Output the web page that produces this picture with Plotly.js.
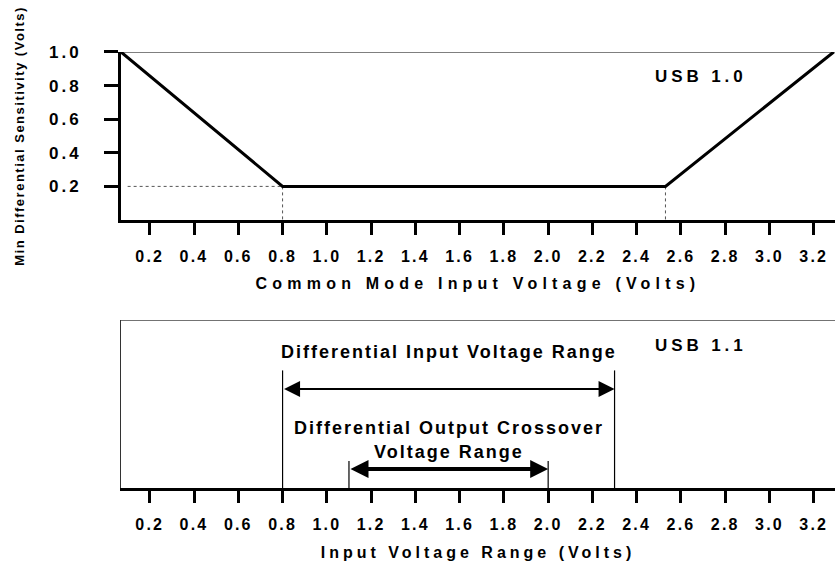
<!DOCTYPE html>
<html>
<head>
<meta charset="utf-8">
<script src="https://cdn.plot.ly/plotly-3.0.1.min.js"></script>
<style>
  html, body { margin: 0; padding: 0; background: #fff; }
  #chart { width: 835px; height: 565px; }
  .xtitle { letter-spacing: 5.2px; }
  .x2title { letter-spacing: 4px; }
  .ytitle { letter-spacing: 1.5px; }
  .xtick text, .x2tick text { letter-spacing: 2.2px; }
  .ytick text { letter-spacing: 3px; }
  .annotation-text { letter-spacing: 2px; }
  .annotation-text[data-unformatted^="USB"] { letter-spacing: 3.9px; }
</style>
</head>
<body>
<div id="chart"></div>
<script>
// ---- data ----
var sensVoltage = [0.07, 0.8, 2.53, 3.29];     // common mode input voltage (V)
var sensMin     = [1.0, 0.2, 0.2, 1.0];         // min differential sensitivity (V)
var guideX      = [0.10, 0.8, null, 0.8, 0.8, null, 2.53, 2.53];
var guideY      = [0.2, 0.2, null, 0.2, 0.0, null, 0.2, 0.0];
var inputRange     = [0.8, 2.3];   // differential input voltage range (V)
var crossoverRange = [1.1, 2.0];   // differential output crossover voltage range (V)
var xTickVals  = [0.2, 0.4, 0.6, 0.8, 1.0, 1.2, 1.4, 1.6, 1.8, 2.0, 2.2, 2.4, 2.6, 2.8, 3.0, 3.2];
var xTickText  = ["0.2","0.4","0.6","0.8","1.0","1.2","1.4","1.6","1.8","2.0","2.2","2.4","2.6","2.8","3.0","3.2"];
var yTickVals  = [0.2, 0.4, 0.6, 0.8, 1.0];
var yTickText  = ["0.2","0.4","0.6","0.8","1.0"];

// ---- figure ----
var F = "Liberation Sans, Arial, sans-serif";
var xRange = [0.07, 3.296];

var inLevel = 0.59, inTop = 0.70;
var coLevel = 0.113, coTop = 0.16;

var traces = [
  { x: guideX, y: guideY, xaxis: 'x', yaxis: 'y', mode: 'lines',
    line: { color: '#555', width: 1, dash: 'dot' }, hoverinfo: 'skip', showlegend: false },
  { x: sensVoltage, y: sensMin, xaxis: 'x', yaxis: 'y', mode: 'lines',
    line: { color: '#000', width: 3 }, hoverinfo: 'skip', showlegend: false },
  { x: [inputRange[0], inputRange[0], null, inputRange[1], inputRange[1], null,
        crossoverRange[0], crossoverRange[0], null, crossoverRange[1], crossoverRange[1]],
    y: [0, inTop, null, 0, inTop, null, 0, coTop, null, 0, coTop],
    xaxis: 'x2', yaxis: 'y2', mode: 'lines',
    line: { color: '#000', width: 1.2 }, hoverinfo: 'skip', showlegend: false }
];

var axisCommon = {
  range: xRange, showgrid: false, zeroline: false, showline: true,
  linecolor: '#000', linewidth: 3, ticks: 'outside', ticklen: 12, tickwidth: 3,
  tickcolor: '#000', tickvals: xTickVals, ticktext: xTickText,
  tickfont: { family: F, size: 16, color: '#000', weight: 'bold' },
  ticklabelstandoff: 8, fixedrange: true
};

var layout = {
  width: 835, height: 565,
  margin: { l: 121, r: 0, t: 0, b: 0 },
  paper_bgcolor: '#fff', plot_bgcolor: '#fff',
  showlegend: false,
  xaxis: Object.assign({}, axisCommon, {
    anchor: 'y', domain: [0, 1],
    title: { text: 'Common Mode Input Voltage (Volts)', standoff: 14,
             font: { family: F, size: 16, color: '#000', weight: 'bold' } }
  }),
  yaxis: {
    anchor: 'x', domain: [0.6106, 0.9080], range: [0, 1],
    showgrid: false, zeroline: false, showline: true, linecolor: '#000', linewidth: 3,
    ticks: 'outside', ticklen: 14, tickwidth: 3, tickcolor: '#000',
    tickvals: yTickVals, ticktext: yTickText,
    tickfont: { family: F, size: 17, color: '#000', weight: 'bold' },
    ticklabelstandoff: 19, fixedrange: true,
    title: { text: 'Min Differential Sensitivity (Volts)', standoff: 22,
             font: { family: F, size: 13, color: '#000', weight: 'bold' } }
  },
  xaxis2: Object.assign({}, axisCommon, {
    anchor: 'y2', domain: [0, 1],
    title: { text: 'Input Voltage Range (Volts)', standoff: 15,
             font: { family: F, size: 16, color: '#000', weight: 'bold' } }
  }),
  yaxis2: {
    anchor: 'x2', domain: [0.1363, 0.4336], range: [0, 1],
    showgrid: false, zeroline: false, showline: true, linecolor: '#333', linewidth: 1.5,
    ticks: '', showticklabels: false, fixedrange: true
  },
  shapes: [
    { type: 'line', xref: 'paper', yref: 'y', x0: -0.02, x1: 1, y0: 1, y1: 1,
      line: { color: '#000', width: 1.2 } },
    { type: 'line', xref: 'paper', yref: 'y2', x0: 0, x1: 1, y0: 1, y1: 1,
      line: { color: '#444', width: 1.5 } }
  ],
  annotations: [
    { xref: 'x', yref: 'y', x: 2.69, y: 0.857, text: 'USB 1.0', showarrow: false,
      font: { family: F, size: 17, color: '#000', weight: 'bold' } },
    { xref: 'x2', yref: 'y2', x: 2.69, y: 0.851, text: 'USB 1.1', showarrow: false,
      font: { family: F, size: 17, color: '#000', weight: 'bold' } },
    { xref: 'x2', yref: 'y2', x: (inputRange[0] + inputRange[1]) / 2, y: 0.81,
      text: 'Differential Input Voltage Range', showarrow: false,
      font: { family: F, size: 18, color: '#000', weight: 'bold' } },
    { xref: 'x2', yref: 'y2', x: (inputRange[0] + inputRange[1]) / 2, y: 0.357,
      text: 'Differential Output Crossover', showarrow: false,
      font: { family: F, size: 18, color: '#000', weight: 'bold' } },
    { xref: 'x2', yref: 'y2', x: (inputRange[0] + inputRange[1]) / 2, y: 0.214,
      text: 'Voltage Range', showarrow: false,
      font: { family: F, size: 18, color: '#000', weight: 'bold' } },
    { xref: 'x2', yref: 'y2', axref: 'x2', ayref: 'y2',
      x: inputRange[1], y: inLevel, ax: inputRange[0], ay: inLevel, text: '',
      showarrow: true, arrowside: 'end+start', arrowhead: 2, arrowsize: 1.6, arrowwidth: 2,
      arrowcolor: '#000', standoff: 0, startstandoff: 0 },
    { xref: 'x2', yref: 'y2', axref: 'x2', ayref: 'y2',
      x: crossoverRange[1], y: coLevel, ax: crossoverRange[0], ay: coLevel, text: '',
      showarrow: true, arrowside: 'end+start', arrowhead: 2, arrowsize: 0.9, arrowwidth: 4,
      arrowcolor: '#000', standoff: 0, startstandoff: 0 }
  ]
};

Plotly.newPlot('chart', traces, layout, { staticPlot: true, displayModeBar: false });
</script>
</body>
</html>
